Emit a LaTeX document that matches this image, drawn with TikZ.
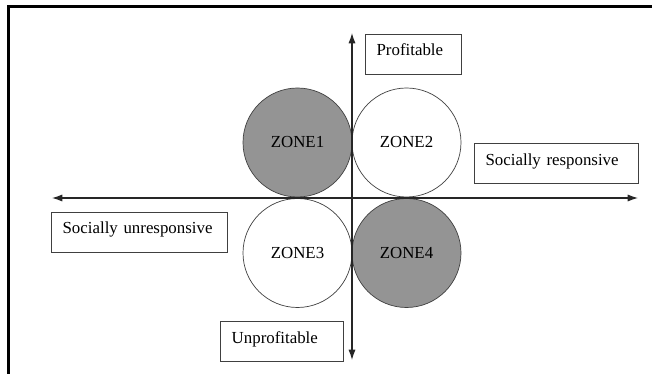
\documentclass[tikz,border=0pt]{standalone}
\usepackage{fontspec}
\setmainfont{Liberation Serif}
\usetikzlibrary{arrows.meta}
\definecolor{zonegray}{gray}{0.58}
\tikzset{
	zone/.style={circle, draw=black!75, line width=0.5pt, minimum size=2.725cm, inner sep=0pt, font=\fontsize{12}{14}\selectfont},
	labelbox/.style={draw=black!75, line width=0.7pt, align=left, inner xsep=0.29cm, inner ysep=0.2cm, text height=0.34cm, text depth=0.26cm, font=\fontsize{12}{14}\selectfont},
	axis/.style={draw=black!85, line width=0.8pt, {Latex[length=2.6mm,width=1.8mm]}-{Latex[length=2.6mm,width=1.8mm]}}
}
\begin{document}
\begin{tikzpicture}
	\useasboundingbox (0,0) rectangle (16.3,9.35);
	\draw[line width=2pt] (0.21,0) -- (0.21,9.18) -- (16.3,9.18);
	\node[zone, fill=zonegray] (z1) at (7.4375,5.7875) {ZONE1};
	\node[zone, fill=white] (z2) at (10.1625,5.7875) {ZONE2};
	\node[zone, fill=white] (z3) at (7.4375,3.025) {ZONE3};
	\node[zone, fill=zonegray] (z4) at (10.1625,3.025) {ZONE4};
	\coordinate (top) at (8.8,8.525);
	\coordinate (bottom) at (8.8,0.35);
	\coordinate (left) at (1.3,4.4);
	\coordinate (right) at (15.95,4.4);
	\draw[axis] (bottom) -- (top);
	\draw[axis] (left) -- (right);
	\node[labelbox, text width=1.82cm] (prof) at (10.325,8.0) {Profitable};
	\node[labelbox, text width=3.52cm] (resp) at (13.9,5.26) {Socially responsive};
	\node[labelbox, text width=3.82cm] (unresp) at (3.475,3.55) {Socially unresponsive};
	\node[labelbox, text width=2.495cm] (unprof) at (7.04,0.81) {Unprofitable};
\end{tikzpicture}
\end{document}
